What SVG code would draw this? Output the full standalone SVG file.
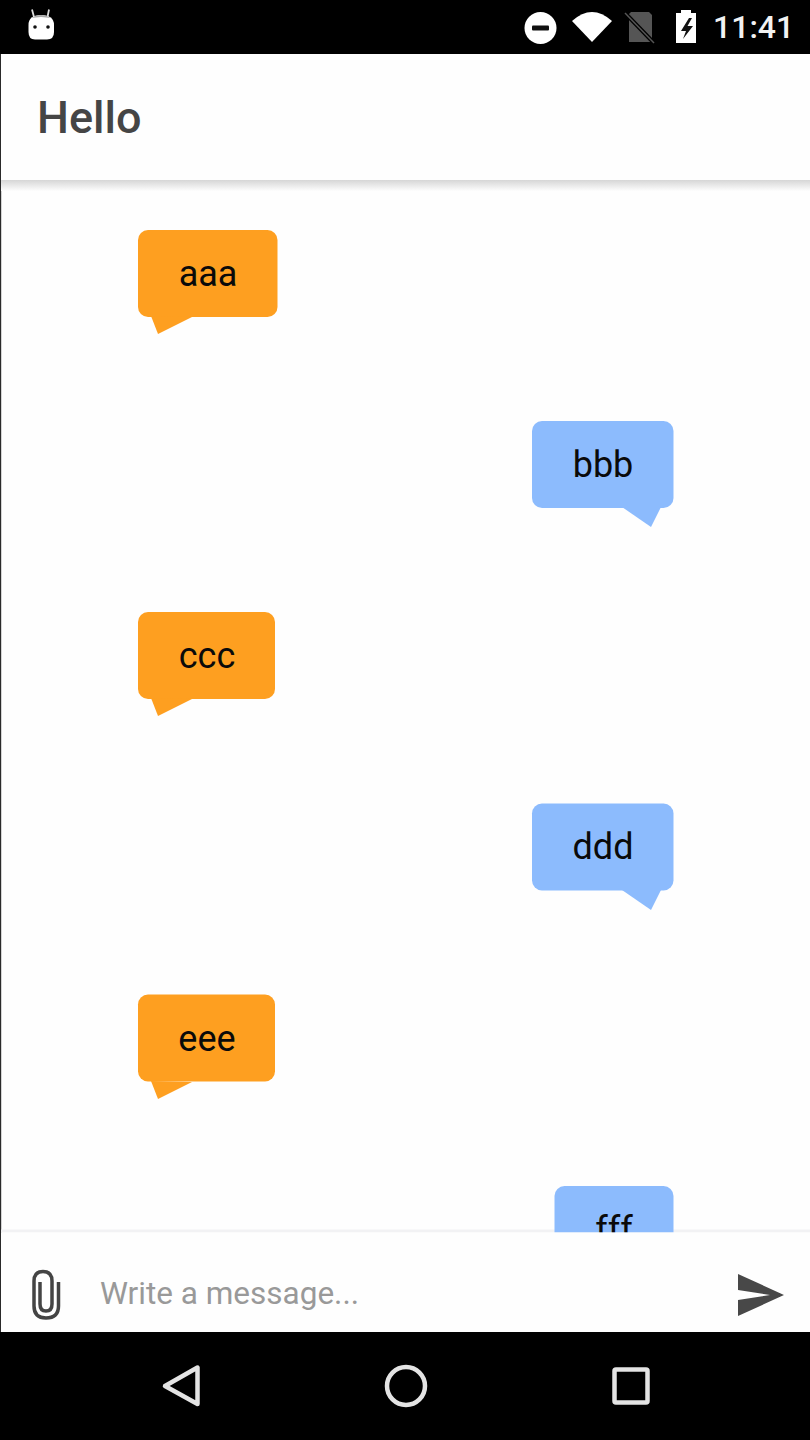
<svg xmlns="http://www.w3.org/2000/svg" width="810" height="1440" viewBox="0 0 810 1440">
<style>
text{font-family:Roboto,"Liberation Sans",sans-serif}
.msg{font-size:36px;fill:#0a0a0a;text-anchor:middle}
.o{fill:#fe9f20}
.b{fill:#8cbbfd}
.nav{fill:none;stroke:#e4e4e4;stroke-width:4.500;stroke-linejoin:round}
</style>
<defs>
<linearGradient id="sh" x1="0" y1="0" x2="0" y2="1"><stop offset="0" stop-color="#d6d6d6"/><stop offset="1" stop-color="#fdfdfd"/></linearGradient>
<clipPath id="list"><rect x="0" y="180" width="810" height="1052.500"/></clipPath>
</defs>
<rect width="810" height="1440" fill="#fefefe"/>
<rect x="0" y="54" width="1.2" height="1278" fill="#2a2a2a"/>
<g id="status-bar">
<rect width="810" height="54" fill="#000"/>
<g id="android-icon">
<path d="M34 17L32 9.500M47.500 17L49 9.500" stroke="#ddd" stroke-width="1.800"/>
<path d="M28.500 25Q28.500 15 41 15Q54 15 54 25L54 32Q54 39.500 47 39.500L35 39.500Q28.500 39.500 28.500 32Z" fill="#fff"/>
<path d="M31 18Q41 12 51 18L41 17Z" fill="#a8a8a8"/>
<circle cx="35" cy="27" r="1.800" fill="#111"/><circle cx="48" cy="27" r="1.800" fill="#111"/>
</g>
<circle cx="540.500" cy="28" r="16" fill="#fff"/>
<rect x="532" y="25.500" width="17" height="5" rx="1" fill="#111"/>
<path d="M572 21Q592 3 612 21L592 42Z" fill="#fff"/>
<path d="M631 12H649L652 15V42H629V14Z" fill="#555"/>
<path d="M625 13L654 43" stroke="#000" stroke-width="4"/>
<path d="M625 13L654 43" stroke="#555" stroke-width="1.500"/>
<path d="M681 10H691V13H696V43H676V13H681Z" fill="#fff"/>
<path d="M689 18L681 31H686L683 39L693 26H687.500L692 18Z" fill="#111"/>
<text x="713" y="38" font-size="32" font-weight="500" fill="#f2f2f2">11:41</text>
</g>
<g id="app-bar">
<rect x="1" y="54" width="809" height="126" fill="#fefefe"/>
<rect x="1" y="180" width="809" height="11" fill="url(#sh)"/>
<text x="37" y="133" font-size="45" font-weight="500" fill="#454545">Hello</text>
</g>
<rect id="input-divider" x="1" y="1229.500" width="809" height="3" fill="#f2f2f4"/>
<g id="message-list" clip-path="url(#list)">
<g id="msg-aaa">
<rect class="o" x="138" y="230" width="139.500" height="87" rx="10"/>
<path class="o" d="M151 316L158 334L192 317Z"/>
<text class="msg" x="208" y="286">aaa</text>
</g>
<g id="msg-bbb">
<rect class="b" x="532" y="421" width="141.500" height="87" rx="10"/>
<path class="b" d="M622 507L651 527L661 507Z"/>
<text class="msg" x="603" y="477">bbb</text>
</g>
<g id="msg-ccc">
<rect class="o" x="138" y="612" width="137" height="87" rx="10"/>
<path class="o" d="M151 698L158 716L192 699Z"/>
<text class="msg" x="207" y="668">ccc</text>
</g>
<g id="msg-ddd">
<rect class="b" x="532" y="803.500" width="141.500" height="87" rx="10"/>
<path class="b" d="M622 890L651 910L661 890Z"/>
<text class="msg" x="603" y="859">ddd</text>
</g>
<g id="msg-eee">
<rect class="o" x="138" y="994.500" width="137" height="87" rx="10"/>
<path class="o" d="M151 1081L158 1099L192 1082Z"/>
<text class="msg" x="207" y="1051">eee</text>
</g>
<g id="msg-fff">
<rect class="b" x="554.500" y="1186" width="119" height="87" rx="10"/>
<text class="msg" x="614" y="1242">fff</text>
</g>
</g>
<g id="input-bar">
<rect x="1" y="1232.500" width="809" height="99.500" fill="#fefefe"/>
<path d="M58.500 1282V1306Q58.500 1318 46 1318Q34 1318 34 1306V1281Q34 1271.500 43 1271.500Q52 1271.500 52 1281V1304Q52 1311 46 1311Q40 1311 40 1304V1282" fill="none" stroke="#444" stroke-width="3.500"/>
<text x="100" y="1304" font-size="31.500" fill="#999">Write a message...</text>
<path d="M738 1274L784 1295L738 1316L738 1300L770 1295L738 1290Z" fill="#484848"/>
</g>
<g id="nav-bar">
<rect y="1332" width="810" height="108" fill="#000"/>
<path class="nav" d="M197.500 1367.500V1404L165 1386Z"/>
<circle class="nav" cx="406" cy="1386" r="19"/>
<rect class="nav" x="614.500" y="1369.500" width="33" height="33" rx="1.500"/>
</g>
</svg>
